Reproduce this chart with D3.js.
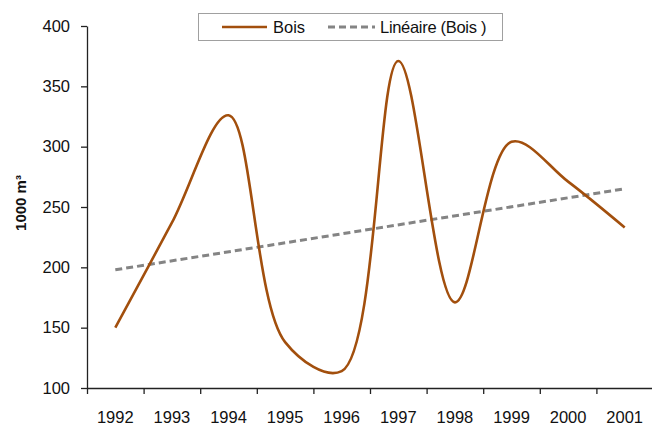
<!DOCTYPE html>
<html>
<head>
<meta charset="utf-8">
<script src="https://cdn.jsdelivr.net/npm/d3@7"></script>
<style>
  html, body { margin: 0; padding: 0; background: #fff; }
  svg { display: block; font-family: "Liberation Sans", Arial, sans-serif; }
</style>
</head>
<body>
<svg id="chart" width="652" height="427"></svg>
<script>
// Wood volume per year (thousand cubic metres)
const years = ["1992", "1993", "1994", "1995", "1996", "1997", "1998", "1999", "2000", "2001"];
const bois = [150, 237, 326, 138, 114, 371, 171, 304, 271, 233];
const yTicks = [100, 150, 200, 250, 300, 350, 400];
const seriesName = "Bois";
const trendName = "Linéaire (Bois )";
const yTitle = "1000 m³";

const svg = d3.select("#chart");
const plotLeft = 87, plotRight = 653, plotTop = 26, plotBottom = 388;
const labelSize = 16.5;

const x = d3.scaleBand().domain(years).range([plotLeft, plotRight]).padding(0);
const y = d3.scaleLinear().domain([100, 400]).range([plotBottom, plotTop]);
const cx = d => x(d) + x.bandwidth() / 2;

// Least-squares trend over category index
const n = bois.length;
const xm = (n - 1) / 2;
const ym = d3.mean(bois);
let sxy = 0, sxx = 0;
bois.forEach((v, i) => { sxy += (i - xm) * (v - ym); sxx += (i - xm) * (i - xm); });
const slope = sxy / sxx;
const intercept = ym - slope * xm;
const trend = [0, n - 1].map(i => ({ year: years[i], v: intercept + slope * i }));

// Y axis
const yAxis = svg.append("g")
  .attr("transform", `translate(${plotLeft},0)`)
  .call(d3.axisLeft(y).tickValues(yTicks).tickSize(6).tickPadding(11).tickSizeOuter(0));
yAxis.select(".domain").attr("stroke", "#222").attr("stroke-width", 1.3);
yAxis.selectAll(".tick line").attr("stroke", "#222").attr("stroke-width", 1.3);
yAxis.selectAll("text").attr("font-size", labelSize).attr("fill", "#111")
  .attr("font-family", "Liberation Sans, Arial, sans-serif");

// X axis: tick marks between categories, labels at category centres
const xb = d3.scaleLinear().domain([0, years.length]).range([plotLeft, plotRight]);
const xAxis = svg.append("g")
  .attr("transform", `translate(0,${plotBottom})`)
  .call(d3.axisBottom(xb).ticks(years.length).tickSize(6).tickFormat("").tickSizeOuter(0));
xAxis.select(".domain").attr("stroke", "#222").attr("stroke-width", 1.3);
xAxis.selectAll(".tick line").attr("stroke", "#222").attr("stroke-width", 1.3);

const xLabels = svg.append("g")
  .attr("transform", `translate(0,${plotBottom})`)
  .call(d3.axisBottom(x).tickSize(0).tickPadding(23));
xLabels.select(".domain").remove();
xLabels.selectAll("text").attr("font-size", labelSize).attr("fill", "#111")
  .attr("font-family", "Liberation Sans, Arial, sans-serif");

// Y title
svg.append("text")
  .attr("transform", `translate(26,${(plotTop + plotBottom) / 2 - 4}) rotate(-90)`)
  .attr("text-anchor", "middle")
  .attr("font-size", 15)
  .attr("font-weight", "bold")
  .attr("fill", "#111")
  .text(yTitle);

// Trend line
svg.append("path")
  .datum(trend)
  .attr("fill", "none")
  .attr("stroke", "#848484")
  .attr("stroke-width", 3)
  .attr("stroke-dasharray", "7,4")
  .attr("d", d3.line().x(d => cx(d.year)).y(d => y(d.v)));

// Smoothed series
svg.append("path")
  .datum(bois.map((v, i) => ({ year: years[i], v })))
  .attr("fill", "none")
  .attr("stroke", "#A24F0D")
  .attr("stroke-width", 2.6)
  .attr("stroke-linejoin", "round")
  .attr("d", d3.line().x(d => cx(d.year)).y(d => y(d.v)).curve(d3.curveCatmullRom.alpha(0.5)));

// Legend
const lg = svg.append("g");
lg.append("rect").attr("x", 198.5).attr("y", 13.5).attr("width", 304).attr("height", 27)
  .attr("fill", "#fff").attr("stroke", "#a0a0a0").attr("stroke-width", 1);
lg.append("line").attr("x1", 222).attr("x2", 267).attr("y1", 27).attr("y2", 27)
  .attr("stroke", "#A24F0D").attr("stroke-width", 2.6);
lg.append("text").attr("x", 273).attr("y", 33).attr("font-size", labelSize).attr("fill", "#111").text(seriesName);
lg.append("line").attr("x1", 328).attr("x2", 375).attr("y1", 27).attr("y2", 27)
  .attr("stroke", "#848484").attr("stroke-width", 3).attr("stroke-dasharray", "7,4");
lg.append("text").attr("x", 380).attr("y", 33).attr("font-size", labelSize).attr("fill", "#111")
  .attr("letter-spacing", -0.3).text(trendName);
</script>
</body>
</html>
